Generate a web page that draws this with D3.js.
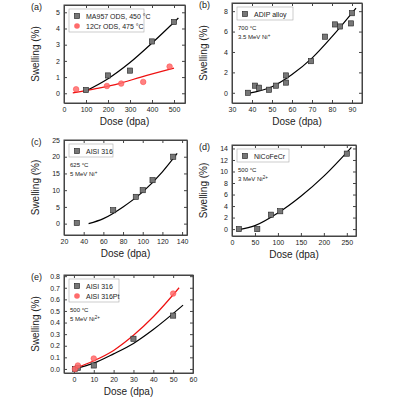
<!DOCTYPE html>
<html><head><meta charset="utf-8">
<script src="https://cdn.jsdelivr.net/npm/d3@7"></script>
<style>body{margin:0;background:#fff}text{font-family:"Liberation Sans",Arial,sans-serif}</style>
</head><body><div id="vis"></div>
<script>
// data
const aMA957 = [[100,0.2],[200,1.1],[300,1.4],[400,3.2],[500,4.4]];
const a12Cr = [[55,0.25],[195,0.45],[260,0.6],[360,0.7],[480,1.65]];
const aFitMA = [[100,0.15],[200,0.9],[300,1.9],[400,3.1],[520,4.65]];
const aFit12 = [[40,0.02],[150,0.3],[250,0.6],[350,1.0],[500,1.55]];
const bADIP = [[38,0],[41.5,0.7],[43.5,0.5],[48.5,0.3],[52,0.7],[57,1.7],[57,1.0],[69.5,3.1],[76.5,5.5],[81.5,6.7],[84,6.5],[89.5,6.8],[90,7.8]];
const bFit = [[38,-0.05],[50,0.6],[60,1.8],[70,3.4],[80,5.5],[92,8.3]];
const c316 = [[33,0.2],[70,4],[93,8],[100,10],[110,13],[131,20]];
const cFit = [[45,0],[60,1.5],[80,5],[100,9.5],[120,15.5],[135,21]];
const dNi = [[15,0],[55,0],[85,2.5],[105,3.1],[250,13.1]];
const dFit = [[15,-0.1],[50,0.6],[100,2.8],[150,5.7],[200,9.2],[260,14.2]];
const e316 = [[0.5,0],[2,0.01],[10,0.03],[30,0.26],[50,0.46]];
const ePt = [[0.5,0],[2,0.03],[10,0.09],[50,0.65]];
const eFit316 = [[0,0],[10,0.05],[20,0.13],[30,0.22],[40,0.34],[55,0.55]];
const eFitPt = [[0,0],[10,0.07],[20,0.16],[30,0.29],[40,0.45],[53,0.7]];

const svg = d3.select("#vis").append("svg").attr("width",400).attr("height",400);

function panel(o){
  const g = svg.append("g");
  const x = d3.scaleLinear().domain(o.xd).range([o.x0,o.x1]);
  const y = d3.scaleLinear().domain(o.yd).range([o.y1,o.y0]);
  const fmt = o.yfmt || d3.format("");
  g.append("g").attr("transform",`translate(0,${o.y1})`)
    .call(d3.axisBottom(x).tickValues(o.xt).tickSizeInner(-3).tickSizeOuter(0).tickPadding(4));
  g.append("g").attr("transform",`translate(${o.x0},0)`)
    .call(d3.axisLeft(y).tickValues(o.yt).tickFormat(fmt).tickSizeInner(-3).tickSizeOuter(0).tickPadding(4));
  g.append("g").attr("transform",`translate(0,${o.y0})`)
    .call(d3.axisTop(x).tickValues(o.xt).tickFormat("").tickSizeInner(-3).tickSizeOuter(0));
  g.append("g").attr("transform",`translate(${o.x1},0)`)
    .call(d3.axisRight(y).tickValues(o.yt).tickFormat("").tickSizeInner(-3).tickSizeOuter(0));
  g.selectAll(".tick text").attr("font-size",7).attr("fill","#222");
  g.selectAll(".domain").attr("stroke","#444");
  g.selectAll(".tick line").attr("stroke","#444");
  g.append("rect").attr("x",o.x0).attr("y",o.y0).attr("width",o.x1-o.x0).attr("height",o.y1-o.y0)
    .attr("fill","none").attr("stroke","#444");
  const line = d3.line().x(d=>x(d[0])).y(d=>y(d[1])).curve(d3.curveMonotoneX);
  o.fits.forEach(f=>g.append("path").attr("d",line(f.d)).attr("fill","none").attr("stroke",f.c).attr("stroke-width",1.2));
  o.series.forEach(s=>{
    if(s.shape==="circle"){
      g.selectAll(null).data(s.d).join("circle").attr("cx",d=>x(d[0])).attr("cy",d=>y(d[1])).attr("r",2.8)
        .attr("fill","#ff6b6b").attr("fill-opacity",0.85).attr("stroke","#f44").attr("stroke-width",0.5);
    } else {
      g.selectAll(null).data(s.d).join("rect").attr("x",d=>x(d[0])-2.6).attr("y",d=>y(d[1])-2.6).attr("width",5.2).attr("height",5.2)
        .attr("fill","#777").attr("stroke","#222").attr("stroke-width",0.6);
    }
  });
  // legend
  const lx=o.x0+5, ly=o.y0+4;
  g.append("rect").attr("x",lx).attr("y",ly).attr("width",o.legW).attr("height",o.series.length*10+3)
    .attr("fill","#fff").attr("stroke","#aaa").attr("stroke-width",0.6);
  o.series.forEach((s,i)=>{
    const cy = ly+7+i*10;
    if(s.shape==="circle") g.append("circle").attr("cx",lx+8).attr("cy",cy).attr("r",2.8).attr("fill","#ff6b6b");
    else g.append("rect").attr("x",lx+5.4).attr("y",cy-2.6).attr("width",5.2).attr("height",5.2).attr("fill","#777").attr("stroke","#222").attr("stroke-width",0.6);
    g.append("text").attr("x",lx+17).attr("y",cy+2.5).attr("font-size",7).attr("fill","#222").text(s.name);
  });
  (o.notes||[]).forEach((t,i)=>{
    const tx = g.append("text").attr("x",lx+1).attr("y",ly+o.series.length*10+13+i*9).attr("font-size",6).attr("fill","#222");
    tx.append("tspan").text(t[0]);
    if(t[1]) tx.append("tspan").attr("baseline-shift","super").attr("font-size",4.5).text(t[1]);
  });
  g.append("text").attr("x",o.x0-33).attr("y",o.y0+5).attr("font-size",9).attr("fill","#222").text(o.label);
  g.append("text").attr("x",(o.x0+o.x1)/2).attr("y",o.y1+22).attr("text-anchor","middle").attr("font-size",10).attr("fill","#222").text("Dose (dpa)");
  g.append("text").attr("transform",`translate(${o.x0-25},${(o.y0+o.y1)/2}) rotate(-90)`).attr("text-anchor","middle")
    .attr("font-size",10).attr("fill","#222").text("Swelling (%)");
}

panel({label:"(a)",x0:64,x1:185,y0:5,y1:103,xd:[0,550],yd:[-0.6,5.45],xt:[0,100,200,300,400,500],yt:[0,1,2,3,4,5],legW:75,
  fits:[{d:aFitMA,c:"#000"},{d:aFit12,c:"#e11"}],
  series:[{name:"MA957 ODS, 450 °C",d:aMA957},{name:"12Cr ODS, 475 °C",d:a12Cr,shape:"circle"}]});
panel({label:"(b)",x0:232,x1:362,y0:3,y1:103,xd:[30,95],yd:[-1,8.8],xt:[30,40,50,60,70,80,90],yt:[0,2,4,6,8],legW:56,
  fits:[{d:bFit,c:"#000"}],series:[{name:"ADIP alloy",d:bADIP}],notes:[["700 °C"],["3.5 MeV Ni","+"]]});
panel({label:"(c)",x0:64,x1:187,y0:140,y1:235,xd:[20,145],yd:[-3.4,25],xt:[20,40,60,80,100,120,140],yt:[0,5,10,15,20,25],legW:44,
  fits:[{d:cFit,c:"#000"}],series:[{name:"AISI 316",d:c316}],notes:[["625 °C"],["5 MeV Ni","+"]]});
panel({label:"(d)",x0:232,x1:356,y0:145,y1:236,xd:[0,270],yd:[-1.2,14.6],xt:[0,50,100,150,200,250],yt:[0,2,4,6,8,10,12,14],legW:52,
  fits:[{d:dFit,c:"#000"}],series:[{name:"NiCoFeCr",d:dNi}],notes:[["500 °C"],["3 MeV Ni","2+"]]});
panel({label:"(e)",x0:64,x1:193,y0:275,y1:373,xd:[-5,60],yd:[-0.035,0.81],xt:[0,10,20,30,40,50,60],yt:[0,0.1,0.2,0.3,0.4,0.5,0.6,0.7,0.8],
  yfmt:d3.format(".1f"),legW:50,
  fits:[{d:eFit316,c:"#000"},{d:eFitPt,c:"#e11"}],
  series:[{name:"AISI 316",d:e316},{name:"AISI 316Pt",d:ePt,shape:"circle"}],notes:[["500 °C"],["5 MeV Ni","2+"]]});
</script></body></html>
